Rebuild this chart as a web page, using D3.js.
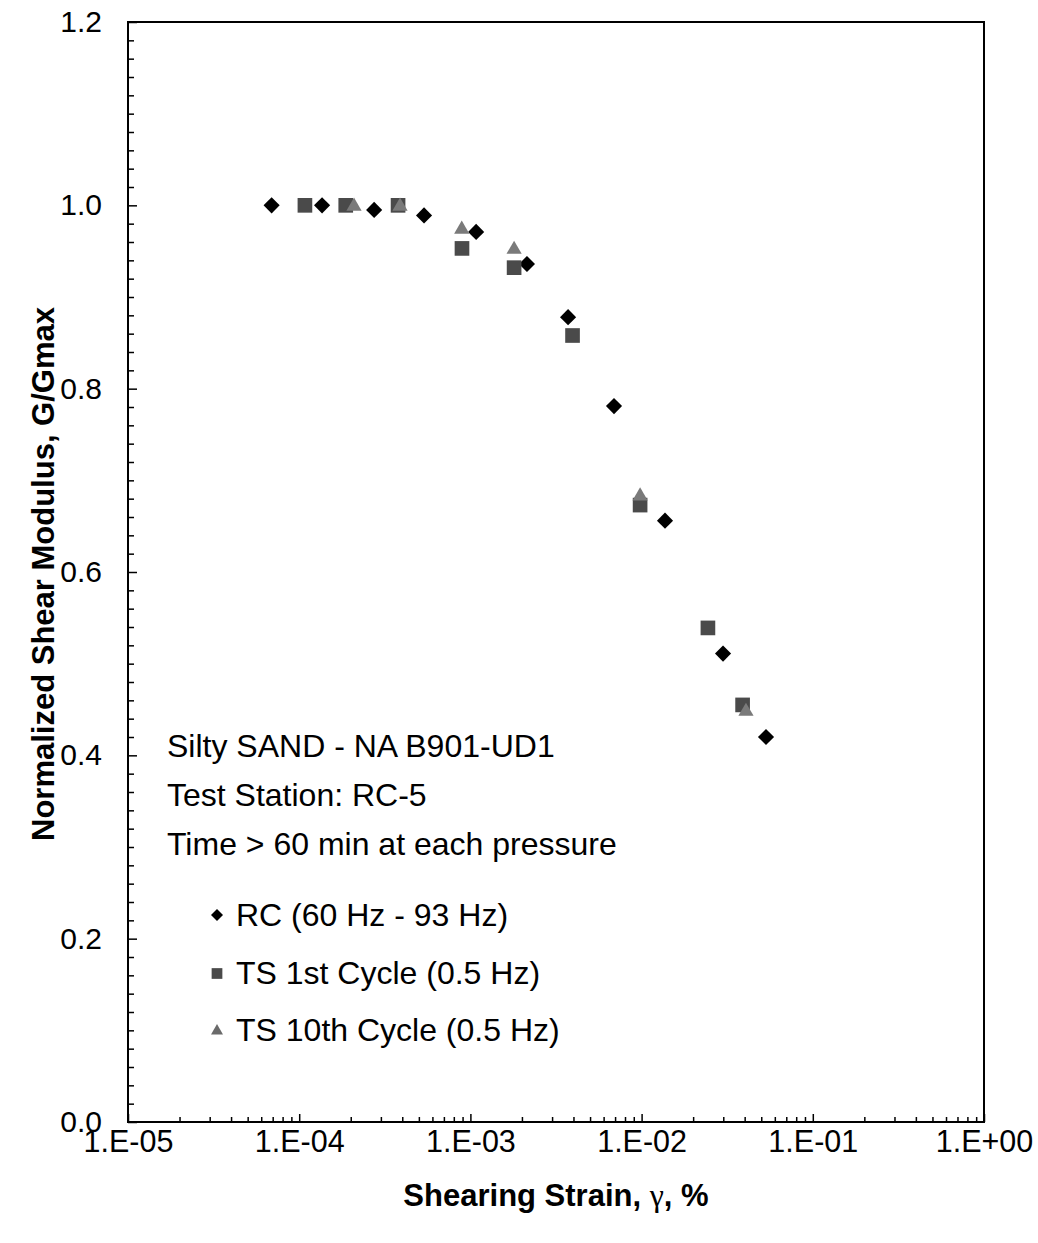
<!DOCTYPE html>
<html>
<head>
<meta charset="utf-8">
<script src="https://cdn.jsdelivr.net/npm/d3@7"></script>
<style>
  body { margin: 0; background: #fff; }
  svg { font-family: Arial, "Liberation Sans", sans-serif; }
</style>
</head>
<body>
<svg></svg>
<script>
width = 1038;
height = 1243;

// RC (60 Hz - 93 Hz)
rcStrain = [6.9e-5, 1.36e-4, 2.74e-4, 5.36e-4, 1.08e-3, 2.14e-3, 3.72e-3, 6.9e-3, 1.37e-2, 2.99e-2, 5.33e-2];
rcG      = [1.0, 1.0, 0.995, 0.989, 0.971, 0.936, 0.878, 0.781, 0.656, 0.511, 0.420];
// TS 1st Cycle (0.5 Hz)
ts1Strain = [1.08e-4, 1.87e-4, 3.78e-4, 8.93e-4, 1.80e-3, 3.95e-3, 9.8e-3, 2.44e-2, 3.89e-2];
ts1G      = [1.0, 1.0, 1.0, 0.953, 0.932, 0.858, 0.673, 0.539, 0.455];
// TS 10th Cycle (0.5 Hz)
ts10Strain = [2.09e-4, 3.88e-4, 8.9e-4, 1.80e-3, 9.8e-3, 4.07e-2];
ts10G      = [1.0, 1.0, 0.975, 0.953, 0.684, 0.449];

xTicks = [1e-5, 1e-4, 1e-3, 1e-2, 1e-1, 1];
yTicks = [0, 0.2, 0.4, 0.6, 0.8, 1.0, 1.2];
noteLines = ['Silty SAND - NA B901-UD1', 'Test Station: RC-5', 'Time > 60 min at each pressure'];
seriesNames = ['RC (60 Hz - 93 Hz)', 'TS 1st Cycle (0.5 Hz)', 'TS 10th Cycle (0.5 Hz)'];

svg = d3.select('svg')
  .attr('width', width)
  .attr('height', height);

pLeft = 128; pRight = 984; pTop = 22; pBottom = 1122;

x = d3.scaleLog().domain([1e-5, 1]).range([pLeft, pRight]);
y = d3.scaleLinear().domain([0, 1.2]).range([pBottom, pTop]);

// minor ticks
xMinor = [];
xTicks.slice(0, -1).forEach(d => { for (k = 2; k <= 9; k++) xMinor.push(d * k); });
yMinor = d3.range(0, 61).map(i => i * 0.02).filter((v, i) => i % 10 !== 0);

svg.append('g')
  .attr('transform', `translate(0,${pBottom})`)
  .call(d3.axisBottom(x).tickValues(xMinor).tickSize(-5).tickFormat(''))
  .call(g => g.select('.domain').remove());

svg.append('g')
  .attr('transform', `translate(${pLeft},0)`)
  .call(d3.axisLeft(y).tickValues(yMinor).tickSize(-6).tickFormat(''))
  .call(g => g.select('.domain').remove());

fmtExp = d => {
  e = Math.round(Math.log10(d));
  return '1.E' + (e < 0 ? '-' : '+') + String(Math.abs(e)).padStart(2, '0');
};

xAxis = svg.append('g')
  .attr('transform', `translate(0,${pBottom})`)
  .call(d3.axisBottom(x).tickValues(xTicks).tickSize(-8).tickPadding(8).tickFormat(fmtExp));
xAxis.select('.domain').remove();
xAxis.selectAll('text').attr('font-size', 30.5).attr('font-family', 'Arial, "Liberation Sans", sans-serif').attr('fill', '#000');

yAxis = svg.append('g')
  .attr('transform', `translate(${pLeft},0)`)
  .call(d3.axisLeft(y).tickValues(yTicks).tickSize(-9).tickPadding(26).tickFormat(d3.format('.1f')));
yAxis.select('.domain').remove();
yAxis.selectAll('text').attr('font-size', 30).attr('font-family', 'Arial, "Liberation Sans", sans-serif').attr('fill', '#000');

svg.selectAll('.tick line').attr('stroke', '#000').attr('stroke-width', 1.5);

// frame
svg.append('rect')
  .attr('x', pLeft).attr('y', pTop)
  .attr('width', pRight - pLeft).attr('height', pBottom - pTop)
  .attr('fill', 'none').attr('stroke', '#000').attr('stroke-width', 2);

// axis titles
xt = svg.append('text')
  .attr('x', 556).attr('y', 1206)
  .attr('text-anchor', 'middle')
  .attr('font-size', 31).attr('font-weight', 'bold');
xt.append('tspan').text('Shearing Strain, ');
xt.append('tspan').attr('font-family', '"Times New Roman", "Liberation Serif", serif').attr('font-weight', 'normal').attr('font-size', 32).text('γ');
xt.append('tspan').text(', %');

svg.append('text')
  .attr('transform', 'translate(54,574) rotate(-90)')
  .attr('text-anchor', 'middle')
  .attr('font-size', 31).attr('font-weight', 'bold')
  .text('Normalized Shear Modulus, G/Gmax');

// markers
diamond = d3.symbol().type(d3.symbolSquare);
square = d3.symbol().type(d3.symbolSquare);
triangle = d3.symbol().type(d3.symbolTriangle);

rc = rcStrain.map((s, i) => ({ s, g: rcG[i] }));
ts1 = ts1Strain.map((s, i) => ({ s, g: ts1G[i] }));
ts10 = ts10Strain.map((s, i) => ({ s, g: ts10G[i] }));

svg.append('g').selectAll('path')
  .data(rc).enter().append('path')
  .attr('d', diamond.size(130))
  .attr('transform', d => `translate(${x(d.s)},${y(d.g)}) rotate(45)`)
  .attr('fill', '#000');

svg.append('g').selectAll('path')
  .data(ts1).enter().append('path')
  .attr('d', square.size(215))
  .attr('transform', d => `translate(${x(d.s)},${y(d.g)})`)
  .attr('fill', '#4a4a4a');

svg.append('g').selectAll('path')
  .data(ts10).enter().append('path')
  .attr('d', triangle.size(100))
  .attr('transform', d => `translate(${x(d.s)},${y(d.g) + 1})`)
  .attr('fill', '#7a7a7a');

// notes
svg.append('g').selectAll('text')
  .data(noteLines).enter().append('text')
  .attr('x', 167)
  .attr('y', (d, i) => 757 + i * 49)
  .attr('font-size', 32)
  .text(d => d);

// legend
legend = svg.append('g').selectAll('g')
  .data(seriesNames).enter().append('g')
  .attr('transform', (d, i) => `translate(217,${915 + i * 57.5})`);
legend.append('path')
  .attr('d', (d, i) => i === 0 ? diamond.size(72)() : i === 1 ? square.size(115)() : triangle.size(62)())
  .attr('transform', (d, i) => i === 0 ? 'rotate(45)' : 'translate(0,1)')
  .attr('fill', (d, i) => ['#000', '#4a4a4a', '#6a6a6a'][i]);
legend.append('text')
  .attr('x', 19).attr('y', 11)
  .attr('font-size', 32)
  .text(d => d);
</script>
</body>
</html>
